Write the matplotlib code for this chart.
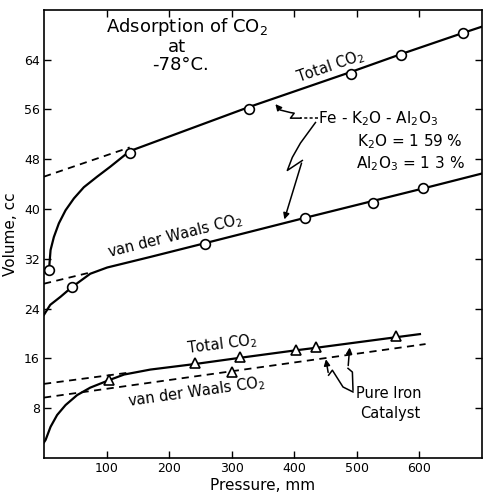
import matplotlib
matplotlib.use("Agg")
import matplotlib.pyplot as plt

# Fe-K2O-Al2O3 catalyst, total CO2 (circles + curve)
fe_total_p = [8, 137, 328, 490, 571, 670]
fe_total_v = [30.2, 49.0, 56.1, 61.7, 64.7, 68.3]
fe_total_curve_p = [8, 10.5, 15.8, 23.8, 34.5, 47.8, 63.7, 85, 106, 137,
                    328, 490, 571, 670, 700]
fe_total_curve_v = [30.2, 33.4, 35.5, 37.7, 39.8, 41.7, 43.5, 45.2, 46.8, 49.3,
                    56.4, 62.0, 64.9, 68.3, 69.3]
fe_total_dash_p = [0, 137]
fe_total_dash_v = [45.2, 49.9]

# Fe-K2O-Al2O3 catalyst, van der Waals CO2
fe_vdw_p = [44, 257, 418, 526, 606]
fe_vdw_v = [27.4, 34.3, 38.5, 41.0, 43.3]
fe_vdw_curve_p = [0, 10, 26.5, 44, 74, 101, 170, 257, 418, 526, 606, 700]
fe_vdw_curve_v = [23.0, 24.6, 25.9, 27.4, 29.6, 30.6, 32.3, 34.5, 38.6, 41.3, 43.3, 45.7]
fe_vdw_dash_p = [0, 78]
fe_vdw_dash_v = [28.0, 29.9]

# pure iron catalyst, total CO2 (triangles)
fe0_total_p = [104, 242, 314, 403, 435, 563]
fe0_total_v = [12.5, 15.2, 16.2, 17.3, 17.8, 19.6]
fe0_total_curve_p = [0, 2.6, 10.5, 21, 34.5, 53, 74, 104, 128, 170,
                     242, 314, 403, 435, 563, 601]
fe0_total_curve_v = [2.5, 2.9, 5.0, 6.9, 8.5, 10.1, 11.3, 12.5, 13.4, 14.2,
                     15.1, 16.1, 17.3, 17.7, 19.4, 19.9]
fe0_total_dash_p = [0, 135]
fe0_total_dash_v = [11.9, 13.7]

# pure iron catalyst, van der Waals CO2
fe0_vdw_p = [301]
fe0_vdw_v = [13.8]
fe0_vdw_dash_p = [0, 610]
fe0_vdw_dash_v = [9.7, 18.3]

x_ticks = [100, 200, 300, 400, 500, 600]
y_ticks = [8, 16, 24, 32, 40, 48, 56, 64]

plt.rcParams['font.family'] = ['DejaVu Sans']

fig = plt.figure(figsize=(4.86, 4.94), dpi=100)
ax = fig.add_axes([0.0905, 0.073, 0.901, 0.907])

lw = 1.6
dash = (0, (4, 3))

ax.plot(fe_total_curve_p, fe_total_curve_v, color="black", lw=lw)
ax.plot(fe_total_dash_p, fe_total_dash_v, color="black", lw=1.3, ls=dash)
ax.plot(fe_total_p, fe_total_v, "o", ms=7, mfc="white", mec="black", mew=1.2)

ax.plot(fe_vdw_curve_p, fe_vdw_curve_v, color="black", lw=lw)
ax.plot(fe_vdw_dash_p, fe_vdw_dash_v, color="black", lw=1.3, ls=dash)
ax.plot(fe_vdw_p, fe_vdw_v, "o", ms=7, mfc="white", mec="black", mew=1.2)

ax.plot(fe0_total_curve_p, fe0_total_curve_v, color="black", lw=lw)
ax.plot(fe0_total_dash_p, fe0_total_dash_v, color="black", lw=1.3, ls=dash)
ax.plot(fe0_total_p, fe0_total_v, "^", ms=7, mfc="white", mec="black", mew=1.2)

ax.plot(fe0_vdw_dash_p, fe0_vdw_dash_v, color="black", lw=1.3, ls=dash)
ax.plot(fe0_vdw_p, fe0_vdw_v, "^", ms=7, mfc="white", mec="black", mew=1.2)

ax.set_xlim(0, 700)
ax.set_ylim(0, 72)
ax.set_xticks(x_ticks)
ax.set_yticks(y_ticks)
ax.tick_params(direction="in", length=5, width=1, top=True, right=True,
               labelsize=9, pad=3)
for s in ax.spines.values():
    s.set_linewidth(1.2)

ax.set_xlabel("Pressure, mm", fontsize=11, labelpad=2)
ax.set_ylabel("Volume, cc", fontsize=11, labelpad=4)

# title block inside the plot
ax.text(229, 69.3, "Adsorption of CO$_2$", ha="center", va="center", fontsize=13)
ax.text(213, 66.1, "at", ha="center", va="center", fontsize=13)
ax.text(218, 63.1, "-78°C.", ha="center", va="center", fontsize=13)

# curve labels
ax.text(458, 62.8, "Total CO$_2$", ha="center", va="center", fontsize=10.5,
        rotation=19, rotation_mode="anchor")
ax.text(210, 35.6, "van der Waals CO$_2$", ha="center", va="center", fontsize=10.5,
        rotation=14, rotation_mode="anchor")
ax.text(284, 18.2, "Total CO$_2$", ha="center", va="center", fontsize=10.5,
        rotation=7, rotation_mode="anchor")
ax.text(244, 10.6, "van der Waals CO$_2$", ha="center", va="center", fontsize=10.5,
        rotation=8, rotation_mode="anchor")

# catalyst notes
ax.text(438, 54.5, "Fe - K$_2$O - Al$_2$O$_3$", ha="left", va="center", fontsize=11)
ax.text(500, 50.8, "K$_2$O = 1 59 %", ha="left", va="center", fontsize=11)
ax.text(499, 47.3, "Al$_2$O$_3$ = 1 3 %", ha="left", va="center", fontsize=11)
ax.text(498, 10.4, "Pure Iron", ha="left", va="center", fontsize=10.5)
ax.text(506, 7.2, "Catalyst", ha="left", va="center", fontsize=10.5)

# wavy pointers
arr = dict(arrowstyle="-|>", color="black", lw=1.1, mutation_scale=9)
ax.plot([438, 410], [54.6, 54.6], color="black", lw=1.1, ls=(0, (2, 1.5)))
ax.plot([410, 394, 400, 394, 378], [54.6, 54.6, 55.4, 55.5, 55.9], color="black", lw=1.1)
ax.annotate("", xy=(367, 57.2), xytext=(378, 55.9), arrowprops=arr)

ax.plot([434, 410, 397, 389, 413], [53.9, 50.6, 48.3, 46.2, 47.8], color="black", lw=1.1)
ax.annotate("", xy=(383, 37.9), xytext=(413, 47.8), arrowprops=arr)

ax.plot([494, 493, 486], [10.9, 13.8, 14.4], color="black", lw=1.1)
ax.annotate("", xy=(489, 18.2), xytext=(486, 14.4), arrowprops=arr)

ax.plot([494, 478, 461, 455], [10.6, 11.4, 14.1, 13.3], color="black", lw=1.1)
ax.annotate("", xy=(450, 16.3), xytext=(455, 13.3), arrowprops=arr)

fig.savefig("out.png", dpi=100)
